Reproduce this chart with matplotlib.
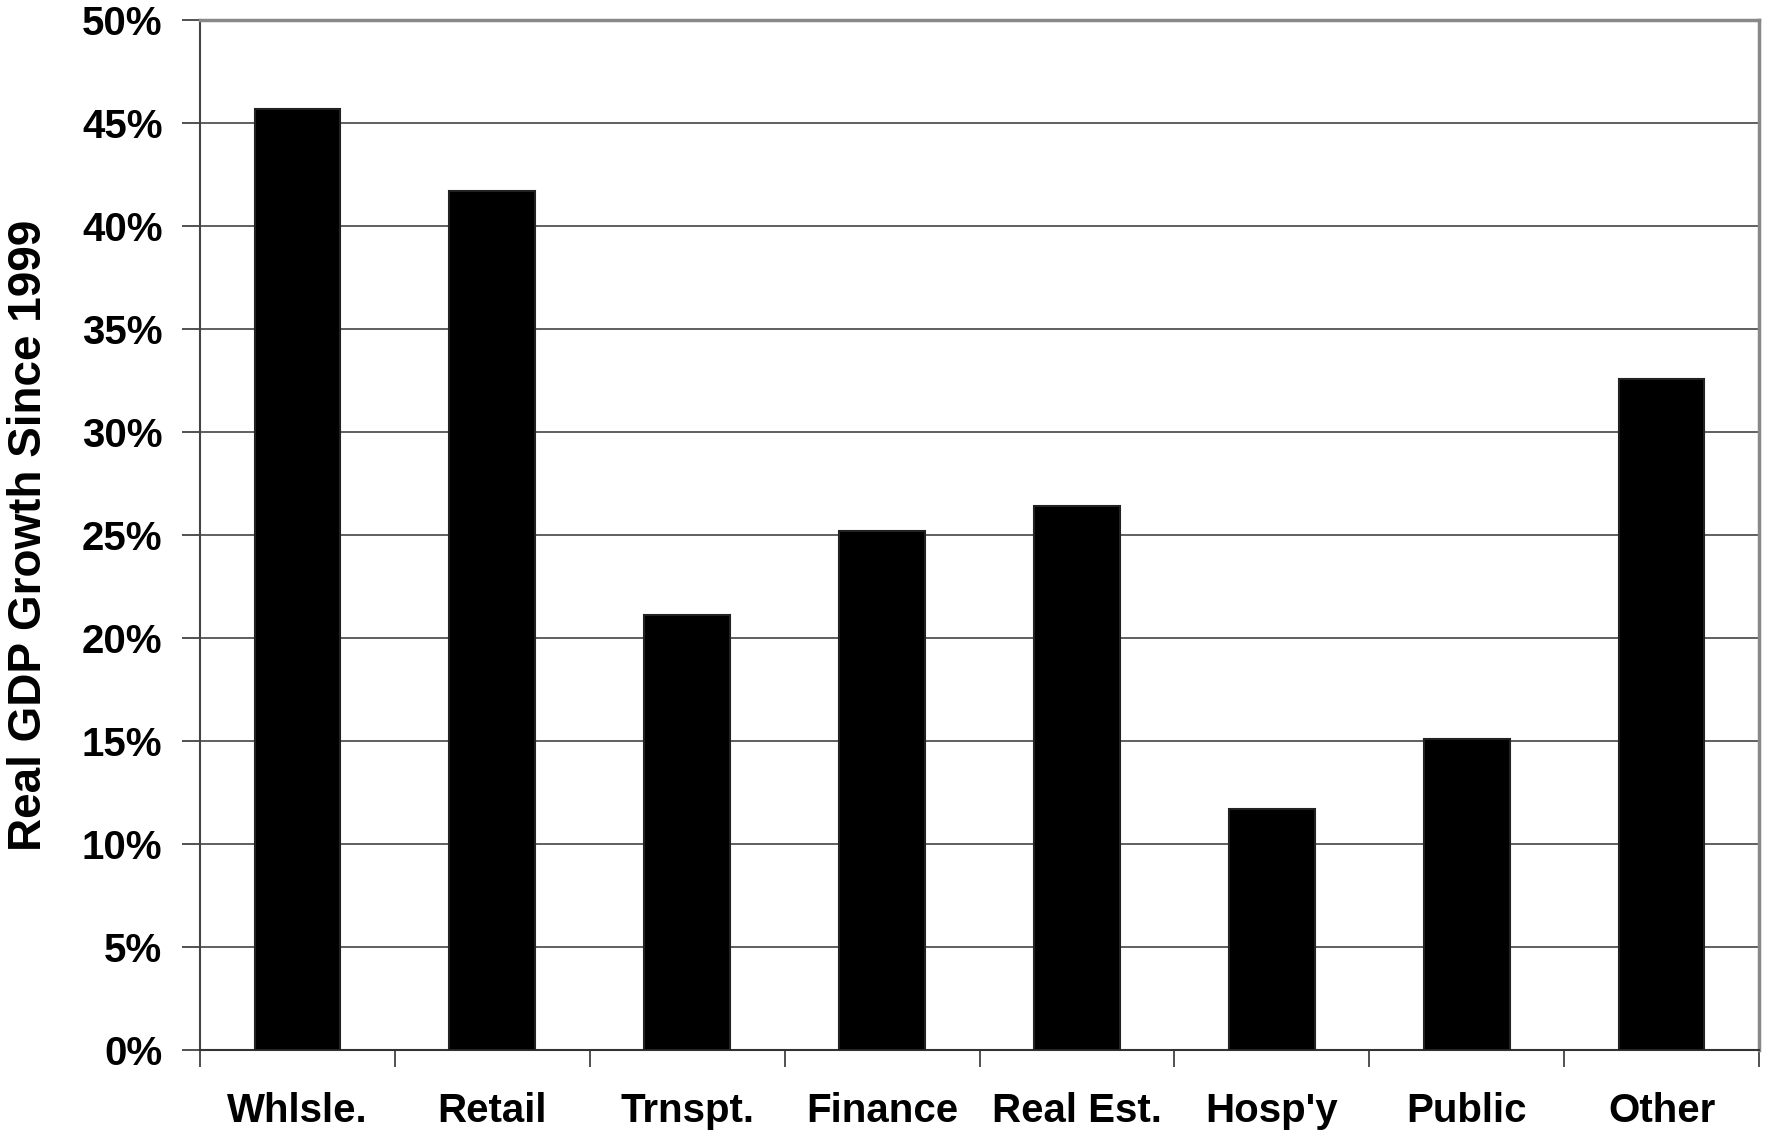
import matplotlib.pyplot as plt
from matplotlib.ticker import FuncFormatter, FixedLocator

# Data
sectors = ['Whlsle.', 'Retail', 'Trnspt.', 'Finance', 'Real Est.', "Hosp'y", 'Public', 'Other']
growth = [45.7, 41.7, 21.1, 25.2, 26.4, 11.7, 15.1, 32.6]

plt.rcParams['font.family'] = ['Liberation Sans', 'DejaVu Sans']
plt.rcParams['font.weight'] = 'bold'

fig = plt.figure(figsize=(17.7, 11.32), dpi=100)
ax = fig.add_axes([0.113, 0.0725, 0.8808, 0.9095])

x = range(len(sectors))
ax.bar(x, growth, width=0.44, color='black', edgecolor='#222222', linewidth=1.5, zorder=3)

ax.set_xlim(-0.5, len(sectors) - 0.5)
ax.set_ylim(0, 50)
ax.set_yticks(range(0, 51, 5))
ax.yaxis.set_major_formatter(FuncFormatter(lambda v, p: f'{int(v)}%'))
ax.grid(axis='y', color='#444444', linewidth=1.2, zorder=0)

# category labels centered, tick marks at the boundaries
ax.set_xticks(list(x))
ax.set_xticklabels(sectors)
ax.xaxis.set_minor_locator(FixedLocator([i - 0.5 for i in range(len(sectors) + 1)]))
ax.tick_params(axis='x', which='major', length=0, pad=30, labelsize=29)
ax.tick_params(axis='x', which='minor', length=12, width=1.2, color='#333333')
ax.tick_params(axis='y', length=13, width=1.2, color='#333333', pad=14, labelsize=29)

for lbl in ax.get_xticklabels() + ax.get_yticklabels():
    lbl.set_fontweight('bold')

ax.spines['left'].set_color('#444444')
ax.spines['bottom'].set_color('#333333')
ax.spines['top'].set_color('#888888')
ax.spines['right'].set_color('#888888')
for s in ax.spines.values():
    s.set_linewidth(1.5)
ax.spines['top'].set_linewidth(2.5)
ax.spines['right'].set_linewidth(2.5)

ax.set_ylabel('Real GDP Growth Since 1999', fontsize=33, fontweight='bold', labelpad=22)

plt.savefig('out.png', dpi=100)
